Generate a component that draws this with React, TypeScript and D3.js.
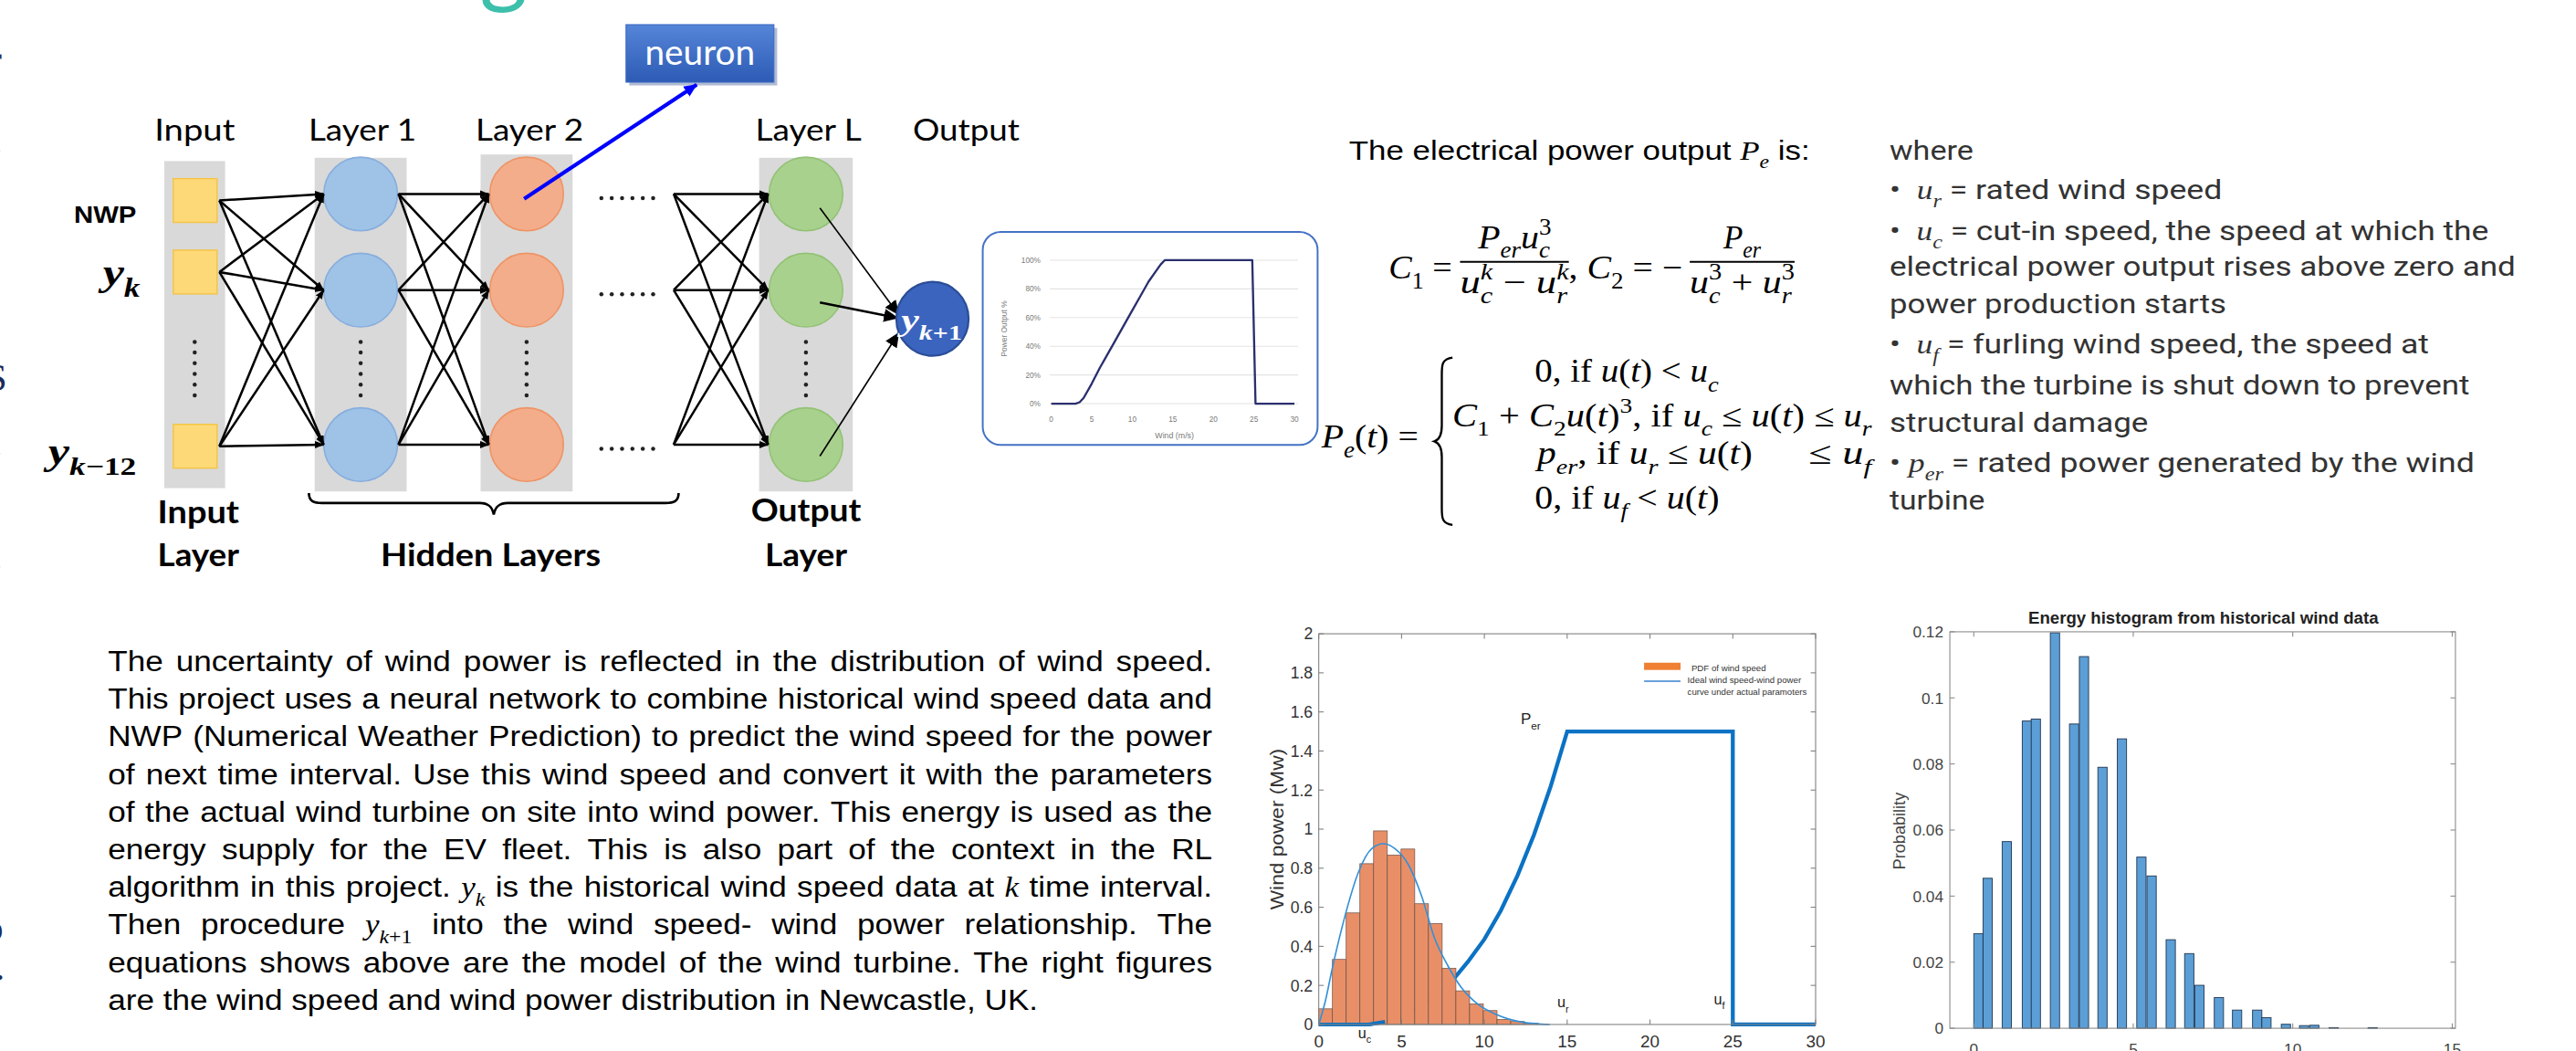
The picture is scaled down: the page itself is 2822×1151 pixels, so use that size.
import React from 'react';
import * as d3 from 'd3';

// the picture is laid out in the 1568-wide frame and scaled up to 2822 x 1151
const VW = 2822 / 1.8;
const VH = 1151 / 1.8;

const SANS = '"Liberation Sans", Arial, sans-serif';
const SERIF = '"Liberation Serif", "Times New Roman", serif';
const LATO = 'Lato, "Open Sans", sans-serif';
const ROBOTO = 'Roboto, "Open Sans", sans-serif';

// ---------- neural network labels ----------
const layerTitles = ['Input', 'Layer 1', 'Layer 2', 'Layer L', 'Output'];
const inputLabels = ['NWP', '$y_k$', '$y_{k−12}$'];

// ---------- small power curve (percent of rated power) ----------
const insetWind = [0, 3, 3.5, 4, 5, 6, 7, 8, 9, 10, 11, 12, 13, 13.5, 14, 24.8, 25.2, 30];
const insetPct = [0, 0, 1, 4, 14, 25, 35, 45, 55, 65, 75, 85, 93, 97, 100, 100, 0, 0];
const insetPctTicks = [0, 20, 40, 60, 80, 100];
const insetWindTicks = [0, 5, 10, 15, 20, 25, 30];

// ---------- wind speed pdf + power curve ----------
const pdfBinWidth = 0.828;
const pdfHeights = [0.08, 0.333, 0.571, 0.823, 0.991, 0.867, 0.898, 0.618, 0.517, 0.288, 0.172, 0.105, 0.071, 0.026, 0.015, 0.006];
const fitSpeed = [0, 0.4, 0.8, 1.6, 2.4, 3.2, 3.9, 4.6, 5.4, 6.2, 7.0, 7.8, 8.6, 9.6, 10.75, 12.35, 13.95];
const fitDensity = [0, 0.12, 0.28, 0.56, 0.78, 0.9, 0.925, 0.9, 0.82, 0.66, 0.44, 0.3, 0.19, 0.104, 0.05, 0.011, 0];
const powerSpeed = [0, 3, 4, 5, 6, 7, 8, 9, 10, 11, 12, 13, 14, 15, 25, 25, 30];
const powerMw = [0, 0, 0.014, 0.038, 0.084, 0.142, 0.218, 0.32, 0.436, 0.584, 0.762, 0.972, 1.218, 1.5, 1.5, 0, 0];
const powerTicks = [0, 0.2, 0.4, 0.6, 0.8, 1, 1.2, 1.4, 1.6, 1.8, 2];
const speedTicks = [0, 5, 10, 15, 20, 25, 30];

// ---------- energy histogram ----------
const energyBinWidth = 0.29;
const energyStart = [0, 0.29, 0.89, 1.52, 1.8, 2.4, 3.0, 3.31, 3.89, 4.5, 5.11, 5.43, 6.03, 6.61, 6.93, 7.54, 8.11, 8.74, 9.03, 9.64, 10.21, 10.53, 11.14, 12.36];
const energyProb = [0.0286, 0.0454, 0.0565, 0.093, 0.0936, 0.1197, 0.0921, 0.1125, 0.079, 0.0876, 0.0518, 0.0461, 0.0268, 0.0226, 0.013, 0.0093, 0.0055, 0.0055, 0.0032, 0.0012, 0.0008, 0.0009, 0.0002, 0.0002];
const probTicks = [0, 0.02, 0.04, 0.06, 0.08, 0.1, 0.12];
const energyTicks = [0, 5, 10, 15];

// ---------- text blocks ----------
const paragraph = [
  'The uncertainty of wind power is reflected in the distribution of wind speed.',
  'This project uses a neural network to combine historical wind speed data and',
  'NWP (Numerical Weather Prediction) to predict the wind speed for the power',
  'of next time interval. Use this wind speed and convert it with the parameters',
  'of the actual wind turbine on site into wind power. This energy is used as the',
  'energy supply for the EV fleet. This is also part of the context in the RL',
  'algorithm in this project. $y_k$ is the historical wind speed data at $k$ time interval.',
  'Then procedure $y_{k+1}$ into the wind speed- wind power relationship. The',
  'equations shows above are the model of the wind turbine. The right figures',
  'are the wind speed and wind power distribution in Newcastle, UK.',
];
const whereLines = [
  'where',
  '•  $u_r$ = rated wind speed',
  '•  $u_c$ = cut-in speed, the speed at which the',
  'electrical power output rises above zero and',
  'power production starts',
  '•  $u_f$ = furling wind speed, the speed at',
  'which the turbine is shut down to prevent',
  'structural damage',
  '• $p_{er}$ = rated power generated by the wind',
  'turbine',
];
const whereWidths = [51, 202.4, 364.6, 381, 205, 328.3, 353, 157.4, 356, 58];
const whereBase = [97.2, 121.1, 146.1, 167.8, 190.6, 215, 240, 262.8, 287.2, 310];

type Seg = { t: string; m?: boolean; it?: boolean; v?: 'sub' | 'sup' };

function parse(src: string): Seg[] {
  const out: Seg[] = [];
  src.split('$').forEach((part, i) => {
    if (!part) return;
    if (i % 2 === 0) { out.push({ t: part }); return; }
    const re = /([_^])(\{[^}]*\}|.)|([^_^]+)/g;
    let mm: RegExpExecArray | null;
    while ((mm = re.exec(part))) {
      const v = mm[1] ? (mm[1] === '_' ? 'sub' : 'sup') : undefined;
      const body = mm[1] ? mm[2].replace(/[{}]/g, '') : mm[3];
      body.split(/([A-Za-z]+)/).forEach(p => {
        if (p) out.push({ t: p, m: true, it: /[A-Za-z]/.test(p), v: v as any });
      });
    }
  });
  return out;
}

let ctx: CanvasRenderingContext2D | null = null;
function measure(t: string, size: number, family: string, italic = false, weight = 'normal') {
  if (!ctx) ctx = document.createElement('canvas').getContext('2d');
  ctx!.font = `${italic ? 'italic ' : ''}${weight} ${size}px ${family}`;
  return ctx!.measureText(t).width;
}

const wordWidth = (w: string, size: number, family: string) =>
  parse(w).reduce((a, s) => a + measure(s.t, s.v ? size * 0.68 : size, s.m ? SERIF : family, !!s.it), 0);

function Rich({ src, x, y, size, family = SANS, fill = '#000', weight, length, anchor }: any) {
  const segs = parse(src);
  let shift = 0;
  let prev: Seg | null = null;
  const spans = segs.map((s, i) => {
    const target = s.v === 'sub' ? size * 0.3 : s.v === 'sup' ? -size * 0.42 : 0;
    const dy = target - shift;
    shift = target;
    let dx = 0;
    if (s.v && prev && prev.v && prev.v !== s.v) dx = -measure(prev.t, size * 0.68, prev.m ? SERIF : family, !!prev.it);
    prev = s.v ? s : null;
    return (
      <tspan key={i} dx={dx || undefined} dy={dy || undefined}
        fontFamily={s.m ? SERIF : undefined} fontStyle={s.it ? 'italic' : undefined}
        fontSize={s.v ? size * 0.68 : undefined}>{s.t}</tspan>
    );
  });
  return (
    <text x={x} y={y} fontSize={size} fontFamily={family} fill={fill} fontWeight={weight}
      textAnchor={anchor} textLength={length} lengthAdjust={length ? 'spacingAndGlyphs' : undefined}
      style={{ whiteSpace: 'pre' }}>{spans}</text>
  );
}

// justified line: glyphs widened by sx, leftover space goes between words
function Justified({ src, x0, x1, y, size, family, sx, last }: any) {
  const words = src.split(' ');
  const widths = words.map((w: string) => wordWidth(w, size, family) * sx);
  const gap = last
    ? measure(' ', size, family) * sx
    : (x1 - x0 - d3.sum(widths)) / (words.length - 1);
  let cx = x0;
  return (
    <g>
      {words.map((w: string, i: number) => {
        const el = (
          <g key={i} transform={`translate(${cx},${y}) scale(${sx},1)`}>
            <Rich src={w} x={0} y={0} size={size} family={family} />
          </g>
        );
        cx += widths[i] + gap;
        return el;
      })}
    </g>
  );
}

export default function App() {
  // ---- neural network layout ----
  const colX = [118.5, 219.5, 320.5, 490.5];
  const colW = [37, 56, 56, 57];
  const colTop = [98, 96, 94, 96];
  const colBot = [297, 299, 299, 299];
  const titleX = [118.5, 220.6, 322.3, 492, 588];
  const titleLen = [49, 65.7, 65.7, 64.6, 65];
  const rowY = [118, 176.5, 270.5];
  const inputY = [122, 165.5, 271.5];
  const nodeFill = ['#9fc3e7', '#f4ad8a', '#a9d18e'];
  const nodeStroke = ['#87aedd', '#ee9466', '#93c276'];

  const conn = (x1: number, a: number[], x2: number, b: number[]) =>
    a.flatMap(p => b.map(q => [x1, p, x2, q]));
  const links = [
    ...conn(133.5, inputY, 197, rowY),
    ...conn(242.5, rowY, 297.5, rowY),
    ...conn(410, rowY, 467.5, rowY),
  ];
  const outLinks = [[499, 126.5, 547, 191.5, 0.9], [499, 184, 546.5, 193.5, 1.4], [499, 277.5, 547, 202.5, 0.9]];
  const vDots = d3.range(6).map(k => 208 + k * 6.5);
  const hDots = d3.range(6).map(k => 366 + k * 6.3);

  // ---- inset chart ----
  const ix = d3.scaleLinear().domain([0, 30]).range([639.8, 787.8]);
  const iy = d3.scaleLinear().domain([0, 100]).range([245.6, 158.3]);
  const insetLine = d3.line<number>().x((_, i) => ix(insetWind[i])).y(d => iy(d));

  // ---- wind power chart ----
  const wx = d3.scaleLinear().domain([0, 30]).range([802.6, 1105]);
  const wy = d3.scaleLinear().domain([0, 2]).range([623.3, 385.6]);
  const fitLine = d3.line<number>().x((_, i) => wx(fitSpeed[i])).y(d => wy(d)).curve(d3.curveMonotoneX);
  const powerLine = d3.line<number>().x((_, i) => wx(powerSpeed[i])).y(d => wy(d));

  // ---- energy chart ----
  const ex = d3.scaleLinear().domain([-0.75, 15.1]).range([1186.7, 1494.4]);
  const ey = d3.scaleLinear().domain([0, 0.12]).range([625.6, 384.4]);

  // ---- paragraph: widen glyphs so the unjustified last line fits its width ----
  const parSize = 17.9;
  const parLeft = 65.7;
  const parRight = 737.8;
  const lastLine = paragraph[paragraph.length - 1];
  const lastWords = lastLine.split(' ');
  const lastNatural = d3.sum(lastWords, w => wordWidth(w, parSize, SANS)) + measure(' ', parSize, SANS) * (lastWords.length - 1);
  const parSx = (631.7 - parLeft) / lastNatural;

  return (
    <svg width={2822} height={1151} viewBox={`0 0 ${VW} ${VH}`}
      style={{ position: 'absolute', left: 0, top: 0, display: 'block', background: '#fff' }}>
      <defs>
        <marker id="ah" viewBox="0 0 10 10" refX="9.5" refY="5" markerWidth="4" markerHeight="4" orient="auto">
          <path d="M0,1 L10,5 L0,9 z" fill="#000" />
        </marker>
        <marker id="ah2" viewBox="0 0 10 10" refX="9.5" refY="5" markerWidth="9" markerHeight="9"
          markerUnits="userSpaceOnUse" orient="auto">
          <path d="M0,0.5 L10,5 L0,9.5 z" fill="#000" />
        </marker>
        <marker id="ahb" viewBox="0 0 10 10" refX="9.5" refY="5" markerWidth="8" markerHeight="8"
          markerUnits="userSpaceOnUse" orient="auto">
          <path d="M0,0.5 L10,5 L0,9.5 z" fill="#0000ff" />
        </marker>
        <linearGradient id="neuronG" x1="0" y1="0" x2="0" y2="1">
          <stop offset="0" stopColor="#5585d8" />
          <stop offset="1" stopColor="#2d5bb5" />
        </linearGradient>
        <clipPath id="page"><rect width={VW} height={VH} /></clipPath>
      </defs>
      <rect width={VW} height={VH} fill="#fff" />

      <g clipPath="url(#page)">
        {/* cut-off title letter and left-edge fragments */}
        <text x={292} y={-2.5} fontFamily={LATO} fontSize={56} fill="#3cbfab">g</text>
        {[['r', -7, 44], ['c', -10, 93], ['S', -9, 238], ['c', -10, 277], ['c', -10, 346], ['o', -10, 572], ['.', -3, 596]].map(([t, x, y], i) => (
          <text key={i} x={x as number} y={y as number} fontFamily={SERIF} fontSize={24} fill="#1d2b5a">{t}</text>
        ))}

        {/* ---------- neural network ---------- */}
        {colX.map((x, i) => (
          <rect key={i} x={x - colW[i] / 2} y={colTop[i]} width={colW[i]} height={colBot[i] - colTop[i]} fill="#d9d9d9" />
        ))}
        {inputY.map((y, i) => (
          <rect key={i} x={105.5} y={y - 13.3} width={26.6} height={26.6} fill="#fdd978" stroke="#f5c445" strokeWidth={0.8} />
        ))}
        {[1, 2, 3].map(c => rowY.map((y, r) => (
          <circle key={`${c}-${r}`} cx={colX[c]} cy={y} r={22.4} fill={nodeFill[c - 1]} stroke={nodeStroke[c - 1]} strokeWidth={0.9} />
        )))}
        {links.map((l, i) => (
          <line key={i} x1={l[0]} y1={l[1]} x2={l[2]} y2={l[3]} stroke="#000" strokeWidth={1.4} markerEnd="url(#ah)" />
        ))}
        {outLinks.map((l, i) => (
          <line key={i} x1={l[0]} y1={l[1]} x2={l[2]} y2={l[3]} stroke="#000" strokeWidth={l[4]} markerEnd="url(#ah2)" />
        ))}
        {colX.map((x, i) => vDots.map((y, k) => <circle key={`${i}-${k}`} cx={x} cy={y} r={1.25} fill="#222" />))}
        {rowY.map((y, i) => hDots.map((x, k) => <circle key={`${i}-${k}`} cx={x} cy={y + 2.5} r={1.25} fill="#222" />))}
        <ellipse cx={567.5} cy={194} rx={22} ry={22.5} fill="#3a64bd" stroke="#2a4d96" strokeWidth={1.2} />
        <Rich src="$y_{k+1}$" x={567} y={201} size={19} family={SERIF} fill="#fff" weight="bold" anchor="middle" length={37} />

        {layerTitles.map((t, i) => (
          <text key={t} x={titleX[i]} y={85.5} textAnchor="middle" fontFamily={LATO} fontSize={18.5}
            textLength={titleLen[i]} lengthAdjust="spacingAndGlyphs">{t}</text>
        ))}
        <text x={64} y={135.8} textAnchor="middle" fontFamily={SANS} fontWeight="bold" fontSize={14.5}
          textLength={38} lengthAdjust="spacingAndGlyphs">{inputLabels[0]}</text>
        <Rich src={inputLabels[1]} x={62.6} y={173.5} size={24} family={SERIF} weight="bold" length={22.7} />
        <Rich src={inputLabels[2]} x={29.3} y={282} size={23} family={SERIF} weight="bold" length={53.7} />

        <text x={120.7} y={318.5} textAnchor="middle" fontFamily={LATO} fontWeight="bold" fontSize={19}
          textLength={49.7} lengthAdjust="spacingAndGlyphs">Input</text>
        <text x={120.7} y={344.3} textAnchor="middle" fontFamily={LATO} fontWeight="bold" fontSize={19}
          textLength={49.7} lengthAdjust="spacingAndGlyphs">Layer</text>
        <text x={298.7} y={344.3} textAnchor="middle" fontFamily={LATO} fontWeight="bold" fontSize={19}
          textLength={134} lengthAdjust="spacingAndGlyphs">Hidden Layers</text>
        <text x={490.6} y={317.3} textAnchor="middle" fontFamily={LATO} fontWeight="bold" fontSize={19}
          textLength={67} lengthAdjust="spacingAndGlyphs">Output</text>
        <text x={490.6} y={344.3} textAnchor="middle" fontFamily={LATO} fontWeight="bold" fontSize={19}
          textLength={50} lengthAdjust="spacingAndGlyphs">Layer</text>
        <path d="M188,300 C188,305 191,306 196,306 L292,306 C297,306 299.5,308 300.5,313 C301.5,308 304,306 309,306 L405,306 C410,306 413,305 413,300"
          fill="none" stroke="#000" strokeWidth={1.5} />

        {/* neuron callout */}
        <rect x={383} y={17} width={90} height={35} fill="#1f3f80" opacity={0.35} />
        <rect x={381} y={15} width={90} height={35} fill="url(#neuronG)" stroke="#3b6ac4" strokeWidth={0.6} />
        <text x={426} y={39.5} textAnchor="middle" fontFamily={LATO} fontSize={21} fill="#fff"
          textLength={67} lengthAdjust="spacingAndGlyphs">neuron</text>
        <line x1={319} y1={121} x2={424} y2={51.5} stroke="#0000ff" strokeWidth={2.3} markerEnd="url(#ahb)" />

        {/* ---------- inset power curve ---------- */}
        <rect x={598.1} y={141.1} width={203.8} height={129.6} rx={11} fill="#fff" stroke="#4472c4" strokeWidth={1.1} />
        {insetPctTicks.map(t => (
          <g key={t}>
            <line x1={639} x2={790} y1={iy(t)} y2={iy(t)} stroke="#e3e3e3" strokeWidth={0.6} />
            <text x={633.3} y={iy(t)} dy="0.35em" textAnchor="end" fontFamily={SANS} fontSize={4.6} fill="#7a7a7a">{t}%</text>
          </g>
        ))}
        {insetWindTicks.map(t => (
          <text key={t} x={ix(t)} y={256.4} textAnchor="middle" fontFamily={SANS} fontSize={4.6} fill="#7a7a7a">{t}</text>
        ))}
        <text x={714.8} y={266.6} textAnchor="middle" fontFamily={SANS} fontSize={4.9} fill="#7a7a7a">Wind (m/s)</text>
        <text transform="translate(613,200) rotate(-90)" textAnchor="middle" fontFamily={SANS} fontSize={4.7} fill="#7a7a7a">Power Output %</text>
        <path d={insetLine(insetPct) || ''} fill="none" stroke="#2b2f6e" strokeWidth={1.3} strokeLinejoin="round" />

        {/* ---------- equations ---------- */}
        <Rich src="The electrical power output $P_e$ is:" x={821} y={97.2} size={16.7} family={SANS} length={280.5} />
        <Rich src="$C_1$ =" x={845.2} y={169.4} size={20} family={SERIF} length={38.6} />
        <line x1={888.6} x2={954.8} y1={159.3} y2={159.3} stroke="#000" strokeWidth={1.1} />
        <Rich src="$P_{er}u_c^3$" x={921.9} y={150.9} size={20} family={SERIF} anchor="middle" length={44.6} />
        <Rich src="$u_c^k$ − $u_r^k$" x={921.7} y={178.5} size={20} family={SERIF} anchor="middle" length={66.2} />
        <Rich src=", $C_2$ = −" x={954.8} y={169.4} size={20} family={SERIF} length={69.2} />
        <line x1={1028.4} x2={1092.2} y1={159.3} y2={159.3} stroke="#000" strokeWidth={1.1} />
        <Rich src="$P_{er}$" x={1060.3} y={150.9} size={20} family={SERIF} anchor="middle" length={22.9} />
        <Rich src="$u_c^3$ + $u_r^3$" x={1060.3} y={178.5} size={20} family={SERIF} anchor="middle" length={63.8} />

        <Rich src="$P_e$($t$) =" x={804.3} y={272.2} size={20} family={SERIF} length={59} />
        <path d="M884,217.6 C877.5,218.5 877.5,222 877.5,228 L877.5,259 C877.5,264.5 876,267.5 873,268.5 C876,269.5 877.5,272.5 877.5,278 L877.5,309 C877.5,315 877.5,318.5 884,319.4"
          fill="none" stroke="#000" strokeWidth={1.3} />
        <Rich src="0, if $u$($t$) < $u_c$" x={934} y={232.3} size={19.5} family={SERIF} length={112} />
        <Rich src="$C_1$ + $C_2u$($t$)$^3$, if $u_c$ ≤ $u$($t$) ≤ $u_r$" x={883.9} y={259.3} size={19.5} family={SERIF} length={255.3} />
        <Rich src="$p_{er}$, if $u_r$ ≤ $u$($t$)" x={935.6} y={282.4} size={19.5} family={SERIF} length={131} />
        <Rich src="≤ $u_f$" x={1100.6} y={282.4} size={19.5} family={SERIF} length={38.4} />
        <Rich src="0, if $u_f$ < $u$($t$)" x={934} y={309.3} size={19.5} family={SERIF} length={112.4} />

        {whereLines.map((l, i) => (
          <Rich key={i} src={l} x={1150} y={whereBase[i]} size={16.5} family={ROBOTO} fill="#333" length={whereWidths[i]} />
        ))}

        {/* ---------- paragraph ---------- */}
        {paragraph.map((l, i) => (
          <Justified key={i} src={l} x0={parLeft} x1={parRight} y={408.3 + i * 22.9} size={parSize}
            family={SANS} sx={parSx} last={i === paragraph.length - 1} />
        ))}

        {/* ---------- wind power chart ---------- */}
        <path d={powerLine(powerMw) || ''} fill="none" stroke="#0b72c4" strokeWidth={2.4} />
        {pdfHeights.map((v, i) => (
          <rect key={i} x={wx(i * pdfBinWidth)} y={wy(v)} width={wx(pdfBinWidth) - wx(0)} height={wy(0) - wy(v)}
            fill="#e98f67" stroke="#6b5248" strokeWidth={0.4} />
        ))}
        {/* flat start of the power curve shows over the bars */}
        <path d={powerLine.x((_, i) => wx(powerSpeed[i]))(powerMw.slice(0, 3)) || ''} fill="none" stroke="#0b72c4" strokeWidth={2.2} />
        <path d={fitLine(fitDensity) || ''} fill="none" stroke="#3390d8" strokeWidth={0.9} />
        <rect x={wx(0)} y={wy(2)} width={wx(30) - wx(0)} height={wy(0) - wy(2)} fill="none" stroke="#808080" strokeWidth={0.6} />
        {powerTicks.map(t => (
          <g key={t}>
            <line x1={wx(0)} x2={wx(0) + 3} y1={wy(t)} y2={wy(t)} stroke="#808080" strokeWidth={0.6} />
            <line x1={wx(30)} x2={wx(30) - 3} y1={wy(t)} y2={wy(t)} stroke="#808080" strokeWidth={0.6} />
            <text x={799} y={wy(t)} dy="0.36em" textAnchor="end" fontFamily={SANS} fontSize={9.8} fill="#333">{String(t)}</text>
          </g>
        ))}
        {speedTicks.map(t => (
          <g key={t}>
            <line x1={wx(t)} x2={wx(t)} y1={wy(0)} y2={wy(0) - 3} stroke="#808080" strokeWidth={0.6} />
            <line x1={wx(t)} x2={wx(t)} y1={wy(2)} y2={wy(2) + 3} stroke="#808080" strokeWidth={0.6} />
            <text x={wx(t)} y={637} textAnchor="middle" fontFamily={SANS} fontSize={10.5} fill="#333">{t}</text>
          </g>
        ))}
        <text transform="translate(781,504.5) rotate(-90)" textAnchor="middle" fontFamily={SANS} fontSize={11}
          fill="#333" textLength={98} lengthAdjust="spacingAndGlyphs">Wind power (Mw)</text>
        <text x={925.5} y={440.5} fontFamily={SANS} fontSize={9.5} fill="#222">P<tspan dy={3.5} fontSize={6.5}>er</tspan></text>
        <text x={947.8} y={613} fontFamily={SANS} fontSize={9} fill="#222">u<tspan dy={3} fontSize={6}>r</tspan></text>
        <text x={1043} y={611} fontFamily={SANS} fontSize={9} fill="#222">u<tspan dy={3} fontSize={6}>f</tspan></text>
        <text x={826.5} y={631.5} fontFamily={SANS} fontSize={9} fill="#222">u<tspan dy={3} fontSize={6}>c</tspan></text>
        {/* legend */}
        <rect x={1000.6} y={403.2} width={22.2} height={4.4} fill="#ef7f33" />
        <line x1={1000.6} x2={1022.8} y1={414.4} y2={414.4} stroke="#3a80d0" strokeWidth={0.8} />
        <text x={1029.4} y={408.2} fontFamily={SANS} fontSize={5.2} fill="#333" textLength={45.4} lengthAdjust="spacingAndGlyphs">PDF of wind speed</text>
        <text x={1027} y={415.8} fontFamily={SANS} fontSize={5.2} fill="#333" textLength={69.2} lengthAdjust="spacingAndGlyphs">Ideal wind speed-wind power</text>
        <text x={1027} y={423} fontFamily={SANS} fontSize={5.2} fill="#333" textLength={72.6} lengthAdjust="spacingAndGlyphs">curve under actual paramoters</text>

        {/* ---------- energy histogram ---------- */}
        {energyProb.map((v, i) => (
          <rect key={i} x={ex(energyStart[i])} y={ey(v)} width={ex(energyBinWidth) - ex(0)} height={ey(0) - ey(v)}
            fill="#5c9fd6" stroke="#1f3550" strokeWidth={0.5} />
        ))}
        <rect x={ex(-0.75)} y={ey(0.12)} width={ex(15.1) - ex(-0.75)} height={ey(0) - ey(0.12)} fill="none" stroke="#8a8a8a" strokeWidth={0.6} />
        {probTicks.map(t => (
          <g key={t}>
            <line x1={ex(-0.75)} x2={ex(-0.75) + 3} y1={ey(t)} y2={ey(t)} stroke="#8a8a8a" strokeWidth={0.6} />
            <line x1={ex(15.1)} x2={ex(15.1) - 3} y1={ey(t)} y2={ey(t)} stroke="#8a8a8a" strokeWidth={0.6} />
            <text x={1182.8} y={ey(t)} dy="0.36em" textAnchor="end" fontFamily={SANS} fontSize={9.6} fill="#444">{String(t)}</text>
          </g>
        ))}
        {energyTicks.map(t => (
          <g key={t}>
            <line x1={ex(t)} x2={ex(t)} y1={ey(0)} y2={ey(0) - 3} stroke="#8a8a8a" strokeWidth={0.6} />
            <line x1={ex(t)} x2={ex(t)} y1={ey(0.12)} y2={ey(0.12) + 3} stroke="#8a8a8a" strokeWidth={0.6} />
            <text x={ex(t)} y={641.5} textAnchor="middle" fontFamily={SANS} fontSize={9.6} fill="#444">{t}</text>
          </g>
        ))}
        <text transform="translate(1159.5,505.6) rotate(-90)" textAnchor="middle" fontFamily={SANS} fontSize={9.8}
          fill="#444" textLength={47} lengthAdjust="spacingAndGlyphs">Probability</text>
        <text x={1341} y={379.4} textAnchor="middle" fontWeight="bold" fontFamily={SANS} fontSize={9.8}
          fill="#222" textLength={213} lengthAdjust="spacingAndGlyphs">Energy histogram from historical wind data</text>
      </g>
    </svg>
  );
}
